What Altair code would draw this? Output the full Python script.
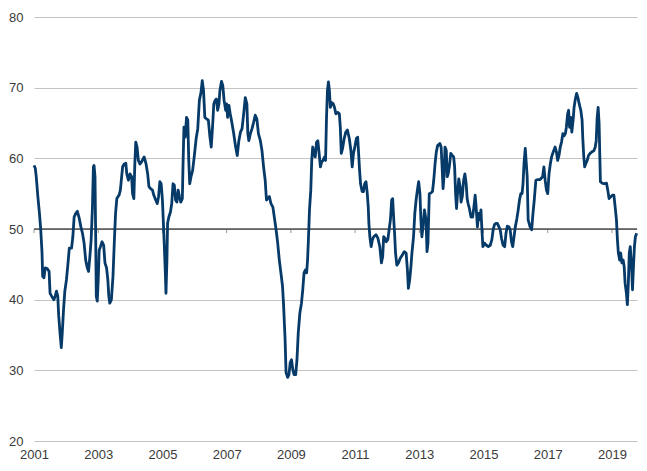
import altair as alt
import pandas as pd

seg_2001_2003 = [
    (2001.00, 59.0), (2001.04, 58.6), (2001.07, 57.4), (2001.12, 54.6), (2001.17, 52.2), (2001.21, 49.9),
    (2001.25, 46.6), (2001.27, 43.3), (2001.31, 43.1), (2001.35, 44.5), (2001.41, 44.4), (2001.47, 44.0),
    (2001.50, 40.9), (2001.55, 40.5), (2001.62, 40.0), (2001.66, 40.5), (2001.70, 41.2), (2001.74, 40.5),
    (2001.77, 37.7), (2001.81, 35.3), (2001.85, 33.2), (2001.88, 35.3), (2001.92, 38.6), (2001.96, 41.2),
    (2002.01, 42.8), (2002.05, 44.7), (2002.10, 47.3), (2002.17, 47.3), (2002.21, 48.9), (2002.25, 51.7),
    (2002.30, 52.2), (2002.35, 52.5), (2002.41, 51.5), (2002.46, 50.3), (2002.51, 49.4), (2002.56, 48.0),
    (2002.61, 45.6), (2002.66, 44.5), (2002.70, 44.0), (2002.74, 46.1), (2002.78, 48.5), (2002.82, 53.1),
    (2002.85, 58.8), (2002.87, 59.0), (2002.90, 57.4), (2002.92, 49.4), (2002.94, 40.5), (2002.97, 39.8),
    (2003.00, 42.8), (2003.03, 47.0), (2003.07, 47.5), (2003.12, 48.2), (2003.17, 47.7), (2003.21, 45.2),
    (2003.26, 44.5), (2003.30, 42.8), (2003.33, 40.5), (2003.36, 39.5), (2003.41, 40.0), (2003.46, 43.3),
    (2003.50, 48.0), (2003.54, 52.2), (2003.58, 54.3), (2003.65, 54.8), (2003.69, 55.5), (2003.73, 57.4),
    (2003.76, 58.8), (2003.81, 59.2), (2003.86, 59.3),
]

seg_2004_2006 = [
    (2003.89, 57.8), (2003.94, 56.9), (2003.99, 57.8), (2004.04, 57.4), (2004.07, 55.0), (2004.11, 54.3),
    (2004.14, 59.2), (2004.17, 62.3), (2004.21, 61.6), (2004.25, 59.7), (2004.30, 59.2), (2004.35, 59.5),
    (2004.43, 60.2), (2004.49, 59.2), (2004.54, 57.8), (2004.58, 56.0), (2004.63, 55.7), (2004.69, 55.5),
    (2004.73, 54.8), (2004.79, 54.1), (2004.84, 53.6), (2004.88, 54.6), (2004.92, 56.7), (2004.96, 56.4),
    (2005.00, 54.1), (2005.03, 50.8), (2005.06, 47.5), (2005.09, 43.8), (2005.11, 40.9), (2005.14, 45.6),
    (2005.16, 50.8), (2005.20, 51.7), (2005.25, 52.4), (2005.29, 53.6), (2005.33, 56.4), (2005.37, 56.2),
    (2005.41, 54.1), (2005.45, 53.8), (2005.49, 55.5), (2005.53, 54.6), (2005.57, 53.8), (2005.62, 54.3),
    (2005.64, 58.8), (2005.67, 64.4), (2005.71, 63.0), (2005.75, 65.8), (2005.79, 65.4), (2005.82, 59.7),
    (2005.85, 56.4), (2005.89, 57.4), (2005.94, 58.3), (2005.99, 60.2), (2006.05, 62.8), (2006.10, 64.2),
    (2006.15, 68.2), (2006.20, 69.3), (2006.24, 71.0), (2006.28, 69.6), (2006.32, 65.8), (2006.37, 65.6),
    (2006.43, 65.4), (2006.48, 63.0), (2006.52, 61.6), (2006.56, 64.4), (2006.60, 67.7), (2006.64, 68.2),
    (2006.68, 68.4), (2006.72, 66.8), (2006.76, 67.7), (2006.79, 69.6), (2006.84, 70.9), (2006.88, 70.3),
    (2006.92, 68.2), (2006.97, 66.8),
]

seg_2007_2009 = [
    (2007.00, 67.7), (2007.03, 65.8), (2007.07, 67.5), (2007.11, 66.3), (2007.15, 65.4), (2007.22, 63.5),
    (2007.28, 61.6), (2007.33, 60.4), (2007.38, 62.5), (2007.43, 63.7), (2007.48, 64.2), (2007.53, 66.3),
    (2007.58, 68.6), (2007.63, 67.7), (2007.66, 63.5), (2007.69, 62.5), (2007.74, 63.5), (2007.79, 64.2),
    (2007.84, 65.1), (2007.89, 66.1), (2007.94, 65.6), (2007.99, 63.5), (2008.05, 62.5), (2008.10, 61.1),
    (2008.15, 58.8), (2008.20, 56.9), (2008.24, 54.1), (2008.28, 54.3), (2008.33, 54.6), (2008.38, 53.6),
    (2008.44, 53.1), (2008.49, 51.5), (2008.54, 49.9), (2008.59, 48.0), (2008.64, 45.6), (2008.69, 43.8),
    (2008.74, 41.9), (2008.77, 39.5), (2008.82, 34.4), (2008.85, 29.7), (2008.90, 29.0), (2008.94, 29.4),
    (2008.98, 31.1), (2009.02, 31.5), (2009.06, 30.1), (2009.10, 29.4), (2009.15, 29.4), (2009.19, 31.5),
    (2009.23, 35.3), (2009.28, 38.1), (2009.33, 39.5), (2009.37, 41.4), (2009.41, 43.8), (2009.45, 44.2),
    (2009.49, 43.8), (2009.52, 45.6), (2009.55, 48.9), (2009.58, 52.7), (2009.62, 55.5), (2009.65, 59.7),
    (2009.68, 61.6), (2009.72, 60.7), (2009.76, 60.2), (2009.80, 62.3), (2009.84, 62.5), (2009.88, 60.7),
    (2009.92, 58.8), (2009.96, 59.5), (2010.00, 59.7), (2010.05, 60.2), (2010.08, 59.7),
]

seg_2010_2012 = [
    (2010.11, 65.8), (2010.14, 69.6), (2010.17, 70.8), (2010.20, 69.6), (2010.23, 67.2), (2010.27, 67.9),
    (2010.32, 67.7), (2010.36, 67.2), (2010.40, 66.3), (2010.46, 66.5), (2010.51, 66.3), (2010.54, 64.4),
    (2010.57, 60.7), (2010.61, 61.4), (2010.66, 62.8), (2010.71, 63.7), (2010.76, 64.0), (2010.82, 62.8),
    (2010.87, 61.1), (2010.91, 58.8), (2010.95, 60.7), (2011.00, 61.8), (2011.04, 62.8), (2011.08, 63.0),
    (2011.11, 60.7), (2011.14, 58.3), (2011.17, 56.4), (2011.22, 55.3), (2011.26, 55.3), (2011.30, 56.4),
    (2011.34, 56.7), (2011.38, 55.0), (2011.41, 53.1), (2011.43, 50.8), (2011.46, 48.9), (2011.50, 47.5),
    (2011.54, 48.5), (2011.58, 48.9), (2011.65, 49.2), (2011.71, 48.7), (2011.77, 47.5), (2011.82, 45.2),
    (2011.86, 46.1), (2011.89, 48.9), (2011.93, 48.7), (2011.97, 48.2), (2012.02, 48.5), (2012.06, 49.9),
    (2012.10, 51.3), (2012.14, 54.1), (2012.17, 54.3), (2012.20, 51.7), (2012.23, 49.4), (2012.26, 46.6),
    (2012.30, 44.9), (2012.35, 45.2), (2012.41, 45.9), (2012.47, 46.3), (2012.53, 46.8), (2012.59, 46.6),
    (2012.63, 44.2), (2012.66, 41.6), (2012.70, 42.8), (2012.74, 44.7), (2012.77, 46.6), (2012.82, 48.9),
    (2012.86, 52.2), (2012.90, 54.1), (2012.94, 55.5), (2012.98, 56.7), (2013.02, 55.0), (2013.05, 51.3),
    (2013.08, 48.9),
]

seg_2013_2016 = [
    (2013.12, 50.5), (2013.16, 52.7), (2013.21, 51.3), (2013.24, 46.8), (2013.27, 48.0), (2013.31, 55.0),
    (2013.36, 55.1), (2013.41, 55.3), (2013.45, 56.9), (2013.49, 59.2), (2013.53, 60.9), (2013.57, 61.8),
    (2013.64, 62.1), (2013.68, 61.6), (2013.71, 58.8), (2013.74, 55.7), (2013.77, 57.4), (2013.80, 61.6),
    (2013.84, 61.1), (2013.87, 57.4), (2013.90, 57.8), (2013.94, 59.0), (2013.98, 60.7), (2014.03, 60.4),
    (2014.07, 60.2), (2014.10, 58.8), (2014.13, 55.0), (2014.16, 52.9), (2014.19, 55.0), (2014.23, 57.1),
    (2014.27, 56.0), (2014.30, 53.8), (2014.34, 54.6), (2014.38, 56.9), (2014.42, 57.8), (2014.46, 56.4),
    (2014.49, 54.3), (2014.52, 53.6), (2014.56, 52.9), (2014.61, 51.7), (2014.66, 51.7), (2014.70, 53.1),
    (2014.74, 54.8), (2014.77, 53.1), (2014.81, 50.3), (2014.85, 52.2), (2014.89, 51.3), (2014.92, 52.7),
    (2014.95, 49.9), (2014.98, 47.5), (2015.03, 48.0), (2015.09, 47.7), (2015.15, 47.5), (2015.21, 47.7),
    (2015.26, 48.5), (2015.30, 49.9), (2015.34, 50.6), (2015.38, 50.8), (2015.43, 50.8), (2015.48, 50.3),
    (2015.52, 49.9), (2015.56, 48.7), (2015.61, 47.7), (2015.66, 47.5), (2015.70, 49.4), (2015.74, 50.4),
    (2015.79, 50.3), (2015.83, 49.9), (2015.87, 48.2), (2015.91, 47.5), (2015.95, 48.9), (2015.99, 50.3),
    (2016.04, 51.5), (2016.08, 52.7), (2016.12, 54.1), (2016.16, 55.0), (2016.20, 55.0), (2016.23, 56.4),
    (2016.26, 59.2),
]

seg_2016_2019 = [
    (2016.30, 61.4), (2016.36, 57.4), (2016.39, 51.3), (2016.45, 50.3), (2016.50, 49.9), (2016.54, 52.2),
    (2016.58, 54.1), (2016.63, 56.9), (2016.69, 57.0), (2016.76, 57.0), (2016.84, 57.4), (2016.88, 58.8),
    (2016.92, 56.9), (2016.96, 55.5), (2017.00, 55.0), (2017.04, 57.8), (2017.08, 59.2), (2017.12, 60.2),
    (2017.17, 60.9), (2017.23, 61.6), (2017.27, 60.9), (2017.31, 59.7), (2017.35, 60.4), (2017.39, 61.6),
    (2017.43, 62.3), (2017.47, 63.5), (2017.51, 63.2), (2017.55, 63.5), (2017.58, 64.4), (2017.62, 66.3),
    (2017.65, 66.8), (2017.68, 64.4), (2017.72, 65.8), (2017.75, 63.7), (2017.79, 65.4), (2017.82, 67.2),
    (2017.86, 68.4), (2017.90, 69.2), (2017.94, 68.6), (2017.98, 67.7), (2018.03, 66.8), (2018.07, 65.4),
    (2018.09, 63.0), (2018.12, 60.4), (2018.15, 58.8), (2018.19, 59.3), (2018.23, 59.7), (2018.27, 60.4),
    (2018.32, 60.7), (2018.37, 60.9), (2018.44, 61.1), (2018.48, 61.6), (2018.51, 62.5), (2018.54, 65.8),
    (2018.57, 67.2), (2018.60, 64.9), (2018.62, 60.7), (2018.64, 56.7), (2018.69, 56.5), (2018.76, 56.4),
    (2018.83, 56.5), (2018.87, 55.5), (2018.91, 54.3), (2018.97, 54.6), (2019.02, 54.8), (2019.06, 54.8),
    (2019.10, 53.1), (2019.14, 51.3), (2019.17, 48.5), (2019.20, 46.6), (2019.24, 45.6), (2019.27, 46.6),
    (2019.31, 45.2), (2019.35, 45.6), (2019.38, 44.7), (2019.41, 42.3), (2019.45, 40.9), (2019.48, 39.3),
    (2019.51, 42.3), (2019.54, 46.6), (2019.57, 47.5), (2019.61, 44.7), (2019.64, 41.4), (2019.67, 44.7),
    (2019.70, 47.5), (2019.73, 48.9), (2019.77, 49.4),
]

y_ticks = [20, 30, 40, 50, 60, 70, 80]
x_ticks = [2001, 2003, 2005, 2007, 2009, 2011, 2013, 2015, 2017, 2019]
reference_level = 50

rows = []
for seg in [seg_2001_2003, seg_2004_2006, seg_2007_2009, seg_2010_2012, seg_2013_2016, seg_2016_2019]:
    for yr, v in seg:
        rows.append({"year": yr, "value": v})
df = pd.DataFrame(rows)
ticks_df = pd.DataFrame({"year": x_ticks, "value": [reference_level] * len(x_ticks)})
ref_df = pd.DataFrame({"value": [reference_level]})

FONT = "Liberation Sans"
xscale = alt.Scale(domain=[2001, 2019.78], nice=False, zero=False)
yscale = alt.Scale(domain=[20, 80], nice=False, zero=False)

x_enc = alt.X("year:Q", scale=xscale,
              axis=alt.Axis(values=x_ticks, format="d", grid=False, domain=False, ticks=False,
                            tickSize=0, labelPadding=7, labelFlush=False, title=None))
y_enc = alt.Y("value:Q", scale=yscale,
              axis=alt.Axis(values=y_ticks, grid=True, gridColor="#c4c4c4", gridWidth=1,
                            domain=False, ticks=False, tickSize=0, labelPadding=11, title=None))

line = alt.Chart(df).mark_line(color="#063a68", strokeWidth=2.8, strokeJoin="round").encode(
    x=x_enc, y=y_enc
)

rule = alt.Chart(ref_df).mark_rule(color="#000000", strokeWidth=1.2).encode(
    y=alt.Y("value:Q", scale=yscale)
)

tick_marks = alt.Chart(ticks_df).mark_tick(
    orient="vertical", size=4, thickness=1, color="#666666", yOffset=2
).encode(
    x=alt.X("year:Q", scale=xscale),
    y=alt.Y("value:Q", scale=yscale),
)

chart = alt.layer(rule, tick_marks, line).properties(
    width=603, height=424,
    padding={"left": 0, "top": 3, "right": 0, "bottom": 0},
).configure_view(stroke=None).configure_axis(
    labelFont=FONT, labelFontSize=13, labelColor="#3a3a3a"
)

chart.save("out.html", embed_options={"renderer": "svg", "actions": False})
